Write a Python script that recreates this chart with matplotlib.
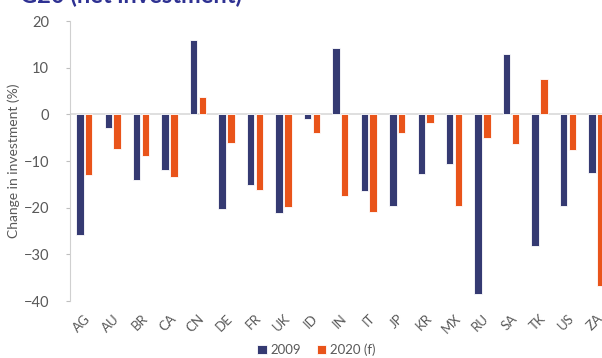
import numpy as np
import matplotlib
matplotlib.use("Agg")
import matplotlib.pyplot as plt

countries = ["AG", "AU", "BR", "CA", "CN", "DE", "FR", "UK", "ID", "IN",
             "IT", "JP", "KR", "MX", "RU", "SA", "TK", "US", "ZA"]
change_2009 = [-25.9, -3.0, -14.1, -12.0, 15.9, -20.3, -15.2, -21.1, -1.0, 14.2,
               -16.4, -19.6, -12.8, -10.6, -38.4, 13.0, -28.1, -19.6, -12.6]
change_2020 = [-12.9, -7.4, -8.9, -13.4, 3.8, -6.2, -16.3, -19.9, -3.9, -17.4,
               -20.9, -3.9, -1.8, -19.6, -5.1, -6.4, 7.7, -7.6, -36.7]

navy = "#353A72"
orange = "#E9541A"
grey = "#595959"

plt.rcParams["font.family"] = ["Lato", "DejaVu Sans"]

fig = plt.figure(figsize=(6.02, 3.58), dpi=100)
ax = fig.add_axes([0.1163, 0.159, 0.898, 0.782])

x = np.arange(len(countries))
w = 0.26
ax.bar(x - 0.155, change_2009, w, color=navy, edgecolor="white", linewidth=0.6,
       label="2009", zorder=3)
ax.bar(x + 0.155, change_2020, w, color=orange, edgecolor="white", linewidth=0.6,
       label="2020 (f)", zorder=3)

ax.axhline(0, color="#D9D9D9", linewidth=1.2, zorder=2)
ax.set_xlim(-0.5, len(countries) - 0.5)
ax.set_ylim(-40, 20)
ax.set_yticks(range(-40, 21, 10))
ax.set_xticks(x)
ax.set_xticklabels(countries, rotation=45, ha="right", rotation_mode="anchor",
                   color=grey, fontsize=9.5)
ax.tick_params(axis="x", length=0, pad=8)
ax.tick_params(axis="y", length=3, color="#BFBFBF", labelcolor=grey,
               labelsize=10.5, pad=12)

for s in ["top", "right", "bottom"]:
    ax.spines[s].set_visible(False)
ax.spines["left"].set_color("#D0D0D0")

ax.set_ylabel("Change in investment (%)", color=grey, fontsize=10, labelpad=3)

fig.legend(loc="center", bbox_to_anchor=(0.526, 0.022), ncol=2, frameon=False,
           fontsize=9.5, handlelength=0.7, handleheight=0.7, handletextpad=0.3,
           columnspacing=1.2, labelcolor=grey)

# title sits mostly above the visible area, as in the source crop
fig.text(20 / 602, 1 - 3 / 358, "G20 (net investment)", color="#2E3192",
         fontsize=17, fontweight="bold", va="baseline", ha="left")

fig.savefig("out.png", dpi=100)
